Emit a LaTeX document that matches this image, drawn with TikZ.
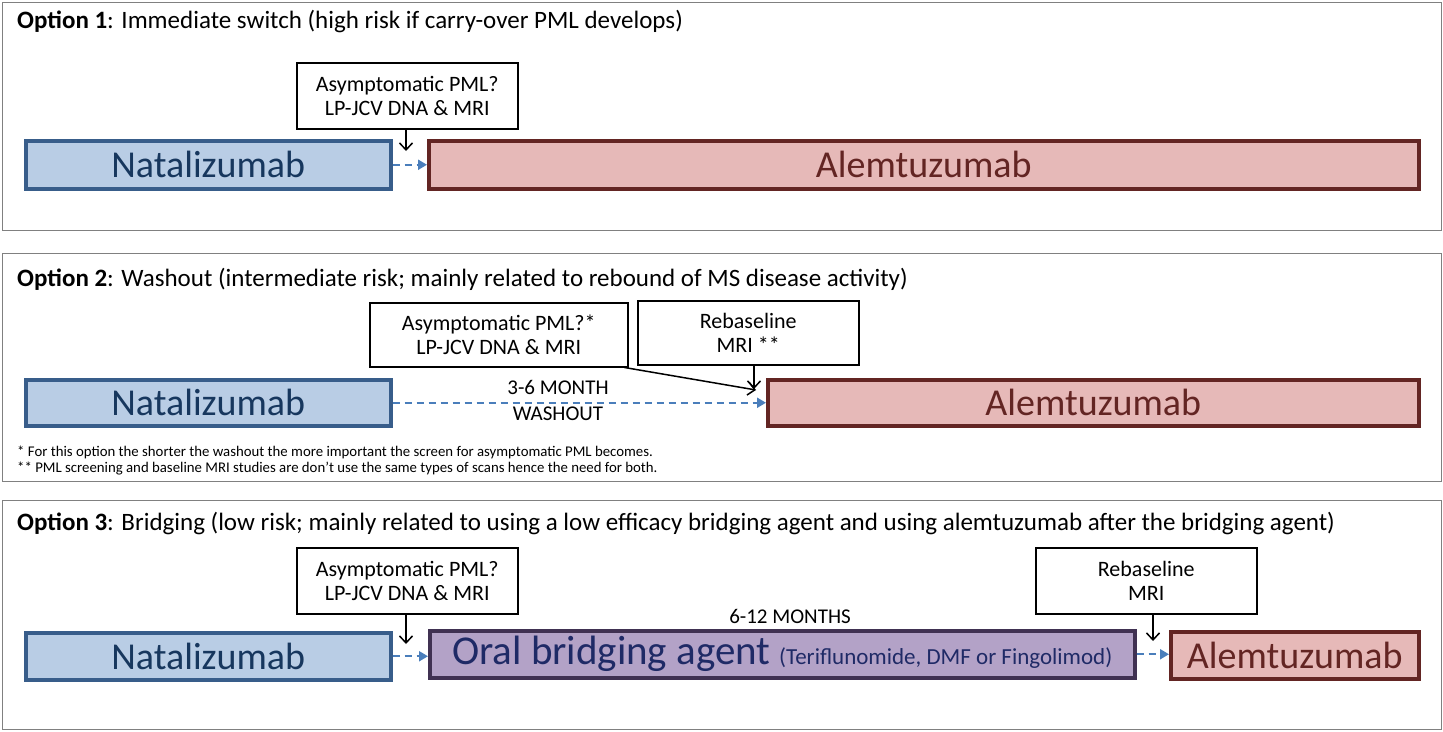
\documentclass[tikz,border=0pt]{standalone}
\usepackage{fontspec}
\setmainfont{Carlito}
\usetikzlibrary{arrows.meta}
\definecolor{natfill}{HTML}{B9CDE5}
\definecolor{natline}{HTML}{385D8A}
\definecolor{nattext}{HTML}{17375E}
\definecolor{alefill}{HTML}{E6B9B8}
\definecolor{aleline}{HTML}{632523}
\definecolor{oralfill}{HTML}{B3A2C7}
\definecolor{oralline}{HTML}{403152}
\definecolor{oraltext}{HTML}{1F2A66}
\definecolor{arrowblue}{HTML}{4A7EBB}
\definecolor{panelgray}{HTML}{808080}
\begin{document}
\begin{tikzpicture}[x=1pt,y=-1pt,
  panel/.style={draw=panelgray, line width=1pt, anchor=north west, inner sep=0pt},
  title/.style={anchor=west, inner sep=0pt, font=\fontsize{25}{29}\selectfont},
  drugbox/.style={line width=3.5pt, anchor=north west, inner sep=0pt, font=\fontsize{38}{42}\selectfont},
  nat/.style={drugbox, draw=natline, fill=natfill, text=nattext},
  ale/.style={drugbox, draw=aleline, fill=alefill, text=aleline},
  oral/.style={drugbox, draw=oralline, fill=oralfill, text=oraltext},
  callout/.style={draw=black, line width=1.5pt, fill=white, anchor=north west, inner sep=0pt, align=center, font=\fontsize{22}{24}\selectfont},
  note/.style={anchor=west, inner sep=0pt, font=\fontsize{14.8}{17}\selectfont},
  periodtext/.style={inner sep=0pt, font=\fontsize{21}{24}\selectfont},
  flow/.style={draw=arrowblue, line width=2pt, dash pattern=on 7pt off 5pt, -{Triangle[width=10pt,length=9pt]}},
  pointer/.style={draw=black, line width=1.5pt, -{Straight Barb[width=13pt,length=7pt]}}
]
\useasboundingbox (0,0) rectangle (1443,731);

% ---------- panels ----------
\node[panel, minimum width=1439, minimum height=228] (p1) at (2,2) {};
\node[panel, minimum width=1439, minimum height=228] (p2) at (2,253) {};
\node[panel, minimum width=1439, minimum height=229] (p3) at (2,500) {};

% ---------- Option 1 ----------
\node[title] (t1) at (17,22) {\textbf{Option 1}: Immediate switch (high risk if carry-over PML develops)};
\node[callout, minimum width=221, minimum height=66] (c1) at (296,62) {Asymptomatic PML?\\LP-JCV DNA \& MRI};
\node[nat, minimum width=365, minimum height=48] (n1) at (24,139) {Natalizumab};
\node[ale, minimum width=990, minimum height=48] (a1) at (427,139) {Alemtuzumab};
\coordinate (m1) at (406,151);
\draw[flow] (n1.east) -- (a1.west);
\draw[pointer] (c1.south -| m1) -- (m1);

% ---------- Option 2 ----------
\node[title] (t2) at (17,279) {\textbf{Option 2}: Washout (intermediate risk; mainly related to rebound of MS disease activity)};
\node[callout, minimum width=258, minimum height=64] (c2a) at (369,302) {Asymptomatic PML?*\\LP-JCV DNA \& MRI};
\node[callout, minimum width=221, minimum height=64] (c2b) at (637,300) {Rebaseline\\MRI **};
\node[nat, minimum width=365, minimum height=46] (n2) at (24,378) {Natalizumab};
\node[ale, minimum width=651, minimum height=46] (a2) at (766,378) {Alemtuzumab};
\node[periodtext] (w1) at (558,387) {3-6 MONTH};
\node[periodtext] (w2) at (558,414) {WASHOUT};
\coordinate (m2a) at (756,390);
\coordinate (m2b) at (754,389);
\draw[flow] (n2.east) -- (a2.west);
\draw[pointer] ([xshift=-4pt]c2a.south east) -- (m2a);
\draw[pointer] (c2b.south -| m2b) -- (m2b);
\node[note] (f1) at (17,452) {* For this option the shorter the washout the more important the screen for asymptomatic PML becomes.};
\node[note] (f2) at (17,469) {** PML screening and baseline MRI studies are don’t use the same types of scans hence the need for both.};

% ---------- Option 3 ----------
\node[title] (t3) at (17,523) {\textbf{Option 3}: Bridging (low risk; mainly related to using a low efficacy bridging agent and using alemtuzumab after the bridging agent)};
\node[callout, minimum width=221, minimum height=66] (c3a) at (296,547) {Asymptomatic PML?\\LP-JCV DNA \& MRI};
\node[callout, minimum width=221, minimum height=66] (c3b) at (1035,547) {Rebaseline\\MRI};
\node[nat, minimum width=365, minimum height=47] (n3) at (24,631) {Natalizumab};
\node[oral, minimum width=705, minimum height=47] (o3) at (428,629) {{\fontsize{41}{44}\selectfont Oral bridging agent} {\fontsize{23}{26}\selectfont(Teriflunomide, DMF or Fingolimod)}};
\node[ale, minimum width=248, minimum height=47] (a3) at (1169,630) {Alemtuzumab};
\node[periodtext] (l3) at (790,616) {6-12 MONTHS};
\coordinate (m3a) at (406,644);
\coordinate (m3b) at (1153,641);
\draw[flow] (n3.east) -- (n3.east -| o3.west);
\draw[flow] (o3.east) -- (o3.east -| a3.west);
\draw[pointer] (c3a.south -| m3a) -- (m3a);
\draw[pointer] (c3b.south -| m3b) -- (m3b);
\end{tikzpicture}
\end{document}
